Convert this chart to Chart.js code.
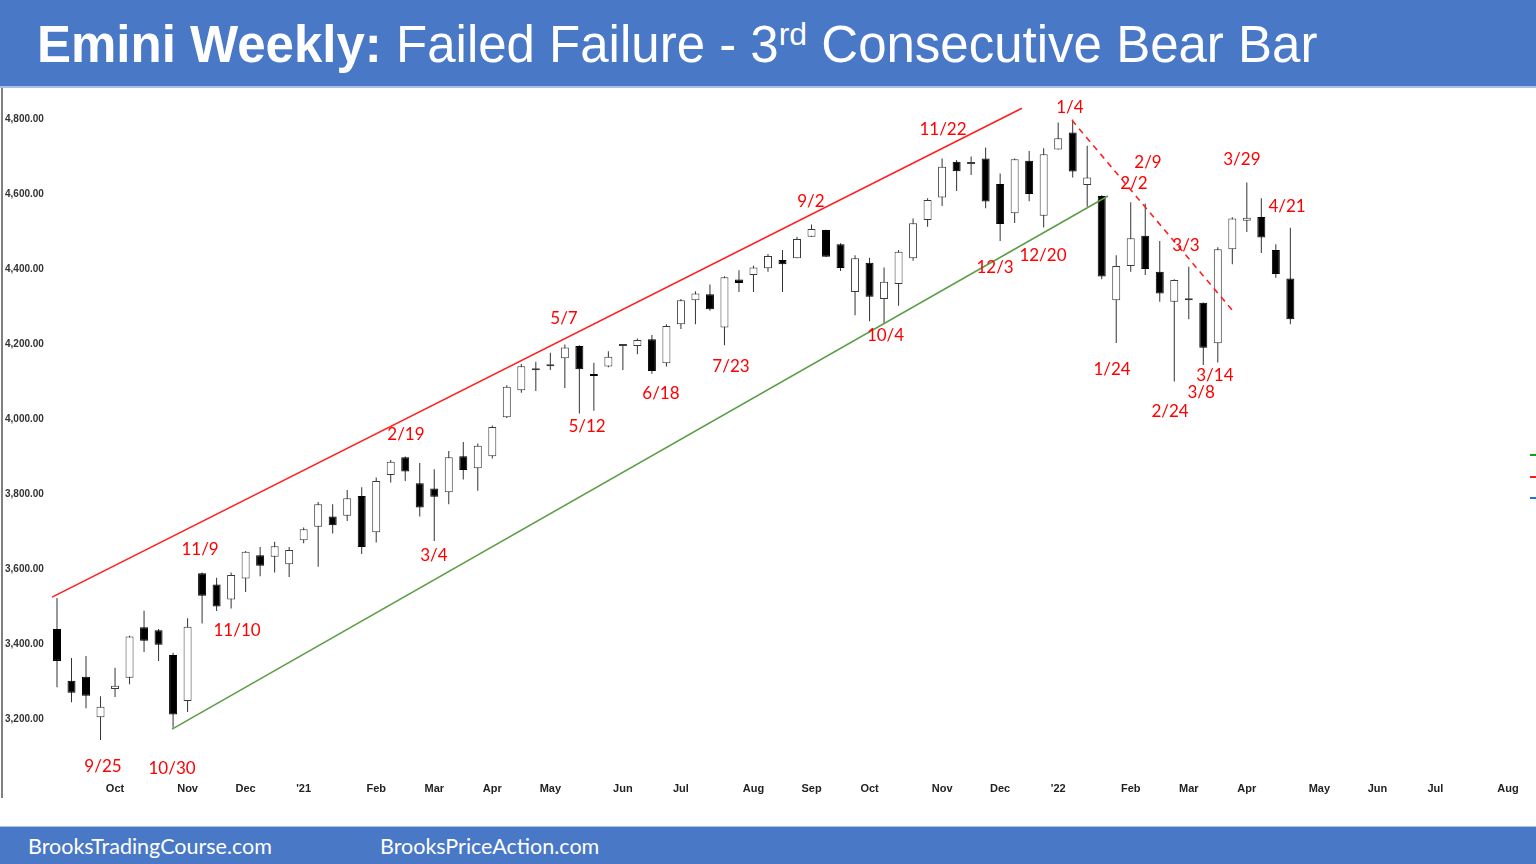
<!DOCTYPE html>
<html><head><meta charset="utf-8">
<script src="https://cdn.jsdelivr.net/npm/chart.js@4.4.1/dist/chart.umd.min.js"></script>
<style>
html,body{margin:0;padding:0;width:1536px;height:864px;overflow:hidden;background:#fff;}
#hdr{position:absolute;left:0;top:0;width:1536px;height:86px;background:#4878C6;border-bottom:2px solid #a9c1e8;}
#title{position:absolute;left:37px;top:19px;font-family:'Liberation Sans',Arial,sans-serif;font-size:51px;line-height:51px;color:#fff;white-space:nowrap;}
#title b{font-weight:bold;}
#title sup{font-size:32px;vertical-align:0;position:relative;top:-17px;}
#wrap{position:absolute;left:0;top:88px;width:1536px;height:738px;}
#ftr{position:absolute;left:0;top:826px;width:1536px;height:38px;background:#4878C6;border-top:1px solid #a9c1e8;}
.f{position:absolute;top:0;line-height:38px;font-family:Lato,'Noto Sans',sans-serif;font-size:21.5px;color:#fff;white-space:nowrap;}
</style></head>
<body>
<div id="hdr"><div id="title"><b>Emini Weekly:</b> Failed Failure - 3<sup>rd</sup> Consecutive Bear Bar</div></div>
<div id="wrap"><canvas id="c"></canvas></div>
<div id="ftr"><span class="f" style="left:28px">BrooksTradingCourse.com</span><span class="f" style="left:380px">BrooksPriceAction.com</span></div>
<script>
// Weekly candles, first bar = week of 2020-08-31 (index 0)
const OPEN  = [3440,3302,3313,3205,3280,3310,3445,3437,3371,3248,3589,3559,3519,3575,3637,3633,3613,3677,3713,3740,3742,3795,3698,3851,3898,3829,3815,3805,3901,3869,3901,4005,4077,4130,4141,4162,4195,4120,4140,4195,4195,4213,4149,4253,4317,4333,4244,4372,4384,4402,4424,4429,4486,4504,4466,4339,4417,4320,4360,4429,4531,4591,4686,4680,4695,4627,4549,4689,4542,4719,4764,4624,4595,4317,4408,4489,4393,4313,4317,4310,4202,4453,4529,4539,4451,4375];
const HIGH  = [3523,3363,3368,3261,3337,3422,3489,3440,3377,3469,3591,3577,3591,3648,3659,3673,3659,3711,3779,3773,3811,3818,3844,3891,3900,3883,3866,3915,3939,3935,3983,4090,4147,4153,4177,4199,4197,4150,4181,4198,4215,4224,4253,4320,4341,4359,4381,4397,4409,4440,4451,4486,4519,4505,4469,4437,4430,4404,4451,4535,4589,4695,4691,4700,4724,4655,4695,4715,4722,4791,4799,4729,4597,4437,4578,4575,4475,4373,4406,4311,4458,4538,4631,4589,4466,4510];
const LOW   = [3285,3245,3229,3144,3259,3293,3379,3355,3177,3219,3455,3488,3495,3539,3581,3591,3579,3669,3606,3695,3728,3640,3671,3831,3835,3740,3675,3773,3839,3809,3895,4003,4070,4075,4131,4083,4015,4022,4138,4131,4173,4121,4140,4240,4253,4289,4197,4339,4339,4393,4339,4429,4486,4432,4395,4277,4261,4255,4302,4422,4513,4568,4608,4651,4562,4475,4523,4581,4511,4719,4644,4566,4373,4203,4393,4384,4313,4100,4266,4144,4151,4413,4499,4443,4377,4253];
const CLOSE = [3355,3270,3262,3233,3289,3420,3409,3398,3212,3446,3529,3500,3584,3646,3609,3661,3651,3706,3773,3717,3789,3659,3835,3886,3860,3764,3793,3898,3864,3929,3979,4086,4141,4135,4143,4191,4133,4115,4166,4196,4211,4128,4248,4317,4335,4293,4378,4363,4404,4435,4413,4480,4507,4433,4403,4429,4326,4366,4446,4522,4584,4673,4661,4681,4580,4520,4693,4600,4706,4749,4660,4644,4380,4408,4482,4400,4335,4371,4318,4190,4453,4535,4537,4484,4387,4266];

// x-axis month ticks (week index) and labels
const TICK_IDX    = [4,9,13,17,22,26,30,34,39,43,48,52,56,61,65,69,74,78,82,87,91,95,100];
const TICK_LABELS = ['Oct','Nov','Dec',"'21",'Feb','Mar','Apr','May','Jun','Jul','Aug','Sep','Oct','Nov','Dec',"'22",'Feb','Mar','Apr','May','Jun','Jul','Aug'];
const Y_TICKS = [3200,3400,3600,3800,4000,4200,4400,4600,4800];

// annotation texts (x = week index, y = price)
const NOTE_TEXT = ['9/25','10/30','11/9','11/10','2/19','3/4','5/7','5/12','6/18','7/23','9/2','10/4','11/22','12/3','12/20','1/4','1/24','2/9','2/2','3/3','2/24','3/14','3/8','3/29','4/21'];
const NOTE_X = [3.17,7.93,9.86,12.41,24.05,25.98,34.94,36.53,41.62,46.45,51.96,57.1,61.06,64.65,67.95,69.81,72.71,75.19,74.22,77.81,76.71,79.8,78.85,81.66,84.77];
const NOTE_Y = [3072,3067,3651,3435,3960,3635,4269,3979,4069,4141,4581,4224,4771,4403,4437,4832,4133,4683,4629,4464,4021,4117,4072,4691,4568];

// trend lines [x1, y1, x2, y2]
const RED_CHANNEL   = [-0.34,3525,66.5,4829];
const GREEN_CHANNEL = [7.93,3173,72.43,4595];
const RED_DASHED    = [69.95,4797,81.05,4288];

// right-edge price markers
const MARK_Y = [3904,3845,3789];
const MARK_C = ['#1a9a1a','#ff1a1a','#1f77d0'];

const idx = OPEN.map((_,i)=>i);
const bodies = idx.map(i=>({x:i,y:[OPEN[i],CLOSE[i]]}));
const wicks  = idx.map(i=>({x:i,y:[LOW[i],HIGH[i]]}));
const seg = a=>[{x:a[0],y:a[1]},{x:a[2],y:a[3]}];
const noPad = s=>{s.paddingTop=0;s.paddingBottom=0;s.paddingLeft=0;s.paddingRight=0;};

const notesPlugin = {
  id:'notes',
  afterDatasetsDraw(chart){
    const {ctx, scales:{x,y}, chartArea} = chart;
    ctx.save();
    ctx.font = '17px Lato, "Noto Sans", sans-serif';
    ctx.fillStyle = '#ff0000';
    ctx.textAlign = 'center';
    ctx.textBaseline = 'middle';
    NOTE_TEXT.forEach((t,i)=>ctx.fillText(t, x.getPixelForValue(NOTE_X[i]), y.getPixelForValue(NOTE_Y[i])));
    MARK_Y.forEach((v,i)=>{
      ctx.fillStyle = MARK_C[i];
      ctx.fillRect(chartArea.right-6, Math.round(y.getPixelForValue(v))-1, 6, 2);
    });
    ctx.restore();
  }
};

new Chart(document.getElementById('c'), {
  type:'bar',
  data:{datasets:[
    {type:'line', data:seg(RED_CHANNEL), borderColor:'#ff2020', borderWidth:1.6, pointRadius:0, order:0},
    {type:'line', data:seg(GREEN_CHANNEL), borderColor:'#5c9e48', borderWidth:1.6, pointRadius:0, order:0},
    {type:'line', data:seg(RED_DASHED), borderColor:'#ff2020', borderWidth:1.6, borderDash:[6,5], pointRadius:0, order:0},
    {data:wicks, grouped:false, maxBarThickness:1, backgroundColor:'#333', borderWidth:0, order:3},
    {data:bodies, grouped:false, maxBarThickness:8, minBarLength:2, borderSkipped:false, borderWidth:1,
     backgroundColor:c=>CLOSE[c.dataIndex]>=OPEN[c.dataIndex]?'#ffffff':'#000000',
     borderColor:c=>CLOSE[c.dataIndex]>=OPEN[c.dataIndex]?'#3a3a3a':'#000000', order:2}
  ]},
  options:{
    responsive:true, maintainAspectRatio:false, animation:false,
    layout:{padding:0},
    plugins:{legend:{display:false}, tooltip:{enabled:false}},
    scales:{
      x:{type:'linear', min:-3.79, max:101.93, offset:false,
         grid:{display:false, drawTicks:false}, border:{display:false},
         afterBuildTicks:s=>{s.ticks = TICK_IDX.map(v=>({value:v}));},
         afterFit:s=>{s.height = 29; noPad(s);},
         ticks:{autoSkip:false, maxRotation:0, mirror:true, padding:1, color:'#222',
                font:{family:'"Liberation Sans Narrow","Arial Narrow","Liberation Sans",sans-serif', size:11, weight:'bold'},
                callback:(v,i)=>TICK_LABELS[i]}},
      y:{type:'linear', position:'left', min:2992, max:4883,
         grid:{display:false, drawTicks:false}, border:{display:true, color:'#808080', width:2},
         afterBuildTicks:s=>{s.ticks = Y_TICKS.map(v=>({value:v}));},
         afterFit:s=>{s.width = 2; noPad(s);},
         ticks:{mirror:true, padding:3, color:'#333',
                font:{family:'"Liberation Sans",Arial,sans-serif', size:10, weight:'bold'},
                callback:v=>v.toLocaleString('en-US',{minimumFractionDigits:2,maximumFractionDigits:2})}}
    }
  },
  plugins:[notesPlugin]
});
</script>
</body></html>
